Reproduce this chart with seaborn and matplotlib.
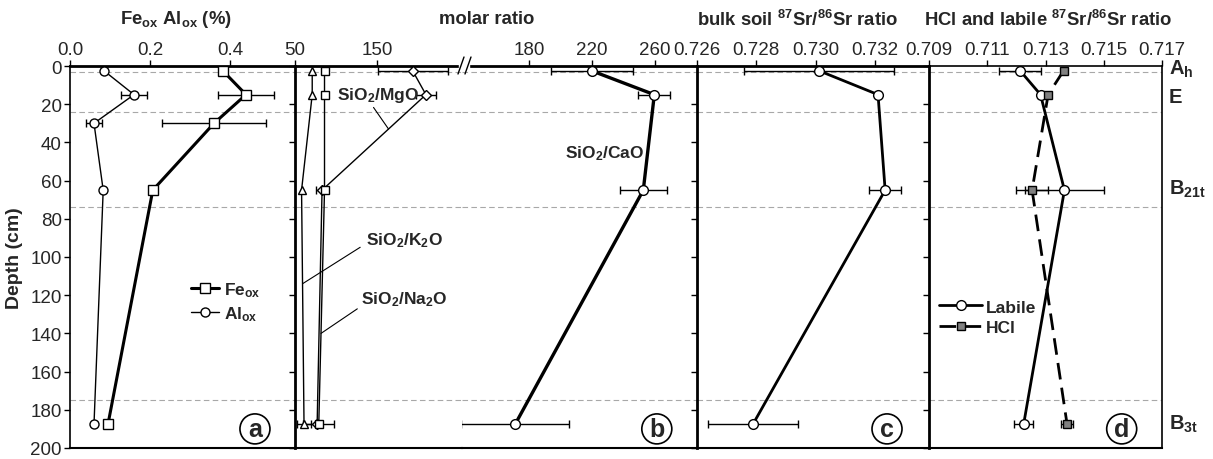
import numpy as np
import pandas as pd
import seaborn as sns
import matplotlib.pyplot as plt
from matplotlib.lines import Line2D
from matplotlib.patches import Rectangle

# sample depths (cm)
depth_a = [2.5, 15, 30, 65, 187.5]
depth_b = [2.5, 15, 65, 187.5]

# panel a - oxalate extractable Fe and Al (%)
fe_ox = [0.382, 0.44, 0.36, 0.207, 0.095]
fe_ox_err = [0, 0.071, 0.13, 0, 0]
al_ox = [0.085, 0.16, 0.06, 0.083, 0.06]
al_ox_err = [0, 0.033, 0.021, 0, 0]

# panel b - molar ratios
sio2_k2o = [71, 71, 58, 61]
sio2_k2o_err = [0, 0, 0, 8]
sio2_na2o = [86, 86, 86, 79]
sio2_na2o_err = [0, 0, 0, 19]
sio2_mgo = [193.5, 209.7, 83, 77]
sio2_mgo_err = [42.7, 12.6, 7, 0]
sio2_cao = [219.8, 259.6, 252.6, 171.3]
sio2_cao_err = [26, 10.2, 14.8, 34.2]

# panel c - bulk soil 87Sr/86Sr
bulk_sr = [0.73012, 0.73211, 0.73235, 0.72789]
bulk_sr_err = [0.00252, 0, 0.00054, 0.00151]

# panel d - labile and HCl 87Sr/86Sr
labile_sr = [0.71213, 0.71283, 0.71365, 0.71225]
labile_sr_err = [0.00072, 0.0001, 0.00137, 0.00032]
hcl_sr = [0.71362, 0.71309, 0.71254, 0.71374]
hcl_sr_err = [0, 0, 0.00055, 0.00021]

horizon_bounds = [3, 24, 74, 175]
horizon_names = [r"A$_\mathbf{h}$", "E", r"B$_\mathbf{21t}$", r"B$_\mathbf{3t}$"]
horizon_label_depth = [1, 16, 64, 187]

sns.set_style("white")
plt.rcParams['font.family'] = ['Liberation Sans', 'DejaVu Sans']
plt.rcParams['mathtext.fontset'] = 'custom'
plt.rcParams['mathtext.bf'] = 'Liberation Sans:bold'
plt.rcParams['mathtext.rm'] = 'Liberation Sans:bold'
plt.rcParams['mathtext.default'] = 'bf'

W, H = 1213, 460
TOP, BOT = 67, 449
fig = plt.figure(figsize=(W / 100, H / 100), dpi=100)


def box(x0, x1):
    return [x0 / W, 1 - BOT / H, (x1 - x0) / W, (BOT - TOP) / H]


ax_a = fig.add_axes(box(70, 295))
ax_b1 = fig.add_axes(box(295, 462))
ax_b2 = fig.add_axes(box(462, 697))
ax_c = fig.add_axes(box(697, 929))
ax_d = fig.add_axes(box(929, 1162))
axes = [ax_a, ax_b1, ax_b2, ax_c, ax_d]


def profile(ax, vals, depth, err, marker, lw, label=None, face="white", ms=6, **kw):
    df = pd.DataFrame({"v": vals, "depth": depth, "err": err})
    sns.lineplot(data=df, x="v", y="depth", sort=False, estimator=None, color="k",
                 lw=lw, marker=marker, markersize=ms, markerfacecolor=face,
                 markeredgecolor="k", markeredgewidth=1, label=label, ax=ax,
                 zorder=3, **kw)
    e = df[df.err > 0]
    ax.errorbar(e.v, e.depth, xerr=e.err, fmt="none", ecolor="k", elinewidth=1,
                capsize=3, capthick=1, zorder=2)


# a
profile(ax_a, fe_ox, depth_a, fe_ox_err, "s", 2.2, label=r"Fe$_{ox}$", ms=6.5)
profile(ax_a, al_ox, depth_a, al_ox_err, "o", 1.0, label=r"Al$_{ox}$", ms=6.5)
# b
profile(ax_b1, sio2_k2o, depth_b, sio2_k2o_err, "^", 1.0)
profile(ax_b1, sio2_mgo, depth_b, sio2_mgo_err, "D", 1.0, ms=5)
profile(ax_b1, sio2_na2o, depth_b, sio2_na2o_err, "s", 1.0)
profile(ax_b2, sio2_cao, depth_b, sio2_cao_err, "o", 2.4, ms=7)
# c
profile(ax_c, bulk_sr, depth_b, bulk_sr_err, "o", 2.0, ms=7)
# d
profile(ax_d, labile_sr, depth_b, labile_sr_err, "o", 2.0, label="Labile", ms=7)
profile(ax_d, hcl_sr, depth_b, hcl_sr_err, "s", 2.0, label="HCl", face="#808080",
        ms=6, linestyle=(0, (6, 3)))

ax_a.set_xlim(0, 0.5625)
ax_a.set_xticks([0.0, 0.2, 0.4])
ax_a.set_xticklabels(["0.0", "0.2", "0.4"])
ax_b1.set_xlim(50, 253.7)
ax_b1.set_xticks([50, 150])
ax_b2.set_xlim(137.5, 286.7)
ax_b2.set_xticks([180, 220, 260])
ax_c.set_xlim(0.726, 0.73383)
ax_c.set_xticks([0.726, 0.728, 0.730, 0.732])
ax_c.set_xticklabels(["0.726", "0.728", "0.730", "0.732"])
ax_d.set_xlim(0.709, 0.717)
ax_d.set_xticks([0.709, 0.711, 0.713, 0.715, 0.717])
ax_d.set_xticklabels(["0.709", "0.711", "0.713", "0.715", "0.717"])

for ax in axes:
    ax.set_ylim(200, 0)
    ax.set_yticks(np.arange(0, 201, 20))
    ax.set_xlabel("")
    ax.set_ylabel("")
    ax.xaxis.tick_top()
    ax.tick_params(axis="x", top=True, bottom=False, labeltop=True, labelbottom=False,
                   direction="out", length=4, width=1, labelsize=13.5, pad=2, color="k")
    ax.tick_params(axis="y", left=True, right=False, direction="out", length=4, width=1,
                   labelleft=False, color="k")
    for b in horizon_bounds:
        ax.axhline(b, color="#a8a8a8", lw=0.8, linestyle=(0, (5, 3)), zorder=1)
    ax.patch.set_alpha(0)
    for s in ax.spines.values():
        s.set_color("k")
    ax.spines["top"].set_linewidth(2)
    ax.spines["bottom"].set_linewidth(1.5)
    ax.spines["right"].set_visible(False)
    ax.spines["left"].set_linewidth(2)
    leg = ax.get_legend()
    if leg is not None:
        leg.remove()

ax_a.tick_params(axis="y", labelleft=True, labelsize=13.5, pad=2)
ax_a.spines["left"].set_linewidth(1.2)
ax_b2.spines["left"].set_visible(False)
ax_b2.tick_params(axis="y", left=False)
ax_d.spines["top"].set_linewidth(1.2)
ax_d.spines["right"].set_visible(True)
ax_d.spines["right"].set_linewidth(1.2)
ax_a.set_ylabel("Depth (cm)", fontsize=14, fontweight="bold", labelpad=5)

# axis break on panel b
fig.add_artist(Rectangle((459 / W, 1 - 71 / H), 10 / W, 8 / H, color="white", zorder=10,
                         transform=fig.transFigure))
for x0 in (458, 465):
    fig.add_artist(Line2D([x0 / W, (x0 + 6) / W], [1 - 75 / H, 1 - 58 / H], color="k",
                          lw=1, zorder=11))

# titles
tkw = dict(ha="center", va="center", fontsize=13.3, fontweight="bold")
fig.text(176 / W, 1 - 20 / H, r"Fe$_{ox}$ Al$_{ox}$ (%)", **tkw)
fig.text(487 / W, 1 - 20 / H, "molar ratio", **tkw)
fig.text(798 / W, 1 - 20 / H, r"bulk soil $^{87}$Sr/$^{86}$Sr ratio", **tkw)
fig.text(1048 / W, 1 - 20 / H, r"HCl and labile $^{87}$Sr/$^{86}$Sr ratio", **tkw)

# legends
ax_a.legend(*ax_a.get_legend_handles_labels(), loc="upper left",
            bbox_to_anchor=(0.47, 0.48), frameon=False, handlelength=1.6,
            handletextpad=0.3, labelspacing=0.3, prop={"weight": "bold", "size": 12.5})
ax_d.legend(*ax_d.get_legend_handles_labels(), loc="upper left",
            bbox_to_anchor=(-0.025, 0.43), frameon=False, handlelength=2.5,
            handletextpad=0.2, labelspacing=0.3, prop={"weight": "bold", "size": 12.5})

# panel b labels
tprops = dict(fontsize=12.5, fontweight="bold", va="center", ha="left")
lprops = dict(arrowstyle="-", lw=0.8, color="k", shrinkA=0, shrinkB=0)
ax_b1.annotate(r"SiO$_2$/MgO", xy=(np.interp(33, depth_b, sio2_mgo), 33),
               xytext=(101, 15), arrowprops=dict(relpos=(0.42, 0), **lprops), **tprops)
ax_b1.annotate(r"SiO$_2$/K$_2$O", xy=(np.interp(114, depth_b, sio2_k2o), 114),
               xytext=(137, 91), arrowprops=dict(relpos=(-0.08, 0.1), **lprops), **tprops)
ax_b1.annotate(r"SiO$_2$/Na$_2$O", xy=(np.interp(140, depth_b, sio2_na2o), 140),
               xytext=(130, 122), arrowprops=dict(relpos=(-0.03, 0.0), **lprops), **tprops)
ax_b2.text(203, 45.5, r"SiO$_2$/CaO", **tprops)

# panel letters
for ax, letter, fx in [(ax_a, "a", 0.822), (ax_b2, "b", 0.829), (ax_c, "c", 0.819),
                       (ax_d, "d", 0.827)]:
    ax.text(fx, 190, letter, transform=ax.get_yaxis_transform(), ha="center", va="center",
            fontsize=18, fontweight="bold",
            bbox=dict(boxstyle="circle,pad=0.12", fc="white", ec="k", lw=1.2))

# horizon names
for name, d in zip(horizon_names, horizon_label_depth):
    ax_d.text(1.03, d, name, transform=ax_d.get_yaxis_transform(), ha="left",
              va="center", fontsize=14.5, fontweight="bold", clip_on=False)

fig.savefig("out.png", dpi=100)
